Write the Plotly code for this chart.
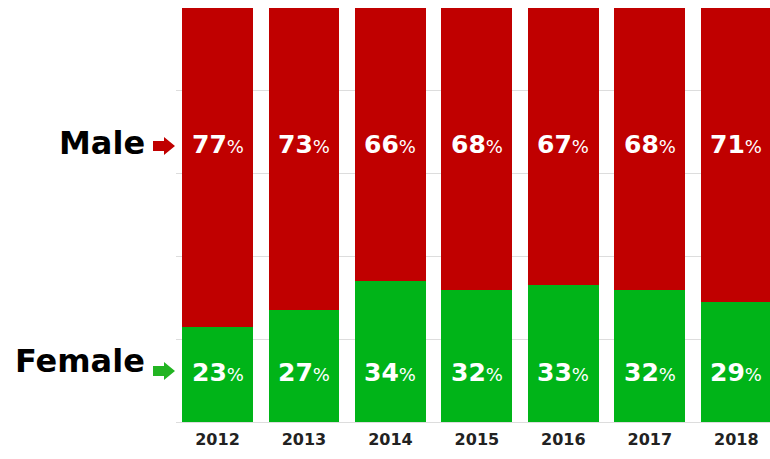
import plotly.graph_objects as go

years = ["2012", "2013", "2014", "2015", "2016", "2017", "2018"]
male = [77, 73, 66, 68, 67, 68, 71]
female = [23, 27, 34, 32, 33, 32, 29]

RED = "#c00000"
GREEN = "#00b418"
FONT = "DejaVu Sans"
W, H, L, T, B = 770, 459, 176, 8, 37

fig = go.Figure()
fig.add_trace(go.Bar(x=years, y=female, marker_color=GREEN, marker_line_width=0, name="Female"))
fig.add_trace(go.Bar(x=years, y=male, marker_color=RED, marker_line_width=0, name="Male"))

def pct(v):
    return f"<b>{v}</b><span style='font-size:18px'>%</span>"

for i, (m, f) in enumerate(zip(male, female)):
    fig.add_annotation(x=i, y=67, text=pct(m), showarrow=False,
                       font=dict(family=FONT, size=25, color="white"))
    fig.add_annotation(x=i, y=12, text=pct(f), showarrow=False,
                       font=dict(family=FONT, size=25, color="white"))

# side labels
def px_x(p):
    return (p - L) / (W - L)

def px_y(p):
    return (H - B - p) / (H - T - B)

fig.add_annotation(xref="paper", yref="paper", x=px_x(147), y=px_y(143),
                   xanchor="right", yanchor="middle",
                   text="<b>Male</b>", showarrow=False,
                   font=dict(family=FONT, size=32, color="black"))
fig.add_annotation(xref="paper", yref="paper", x=px_x(147), y=px_y(361),
                   xanchor="right", yanchor="middle",
                   text="<b>Female</b>", showarrow=False,
                   font=dict(family=FONT, size=32, color="black"))

def arrow(x0, yc, color):
    pts = [(x0, yc - 5), (x0 + 11, yc - 5), (x0 + 11, yc - 9), (x0 + 22, yc),
           (x0 + 11, yc + 9), (x0 + 11, yc + 5), (x0, yc + 5)]
    path = "M " + " L ".join(f"{px_x(a):.4f},{px_y(b):.4f}" for a, b in pts) + " Z"
    fig.add_shape(type="path", xref="paper", yref="paper", path=path,
                  fillcolor=color, line_width=0, layer="above")

arrow(153, 146, RED)
arrow(153, 371, "#22b422")

fig.update_layout(
    barmode="stack",
    bargap=0.18,
    width=W, height=H,
    margin=dict(l=L, r=0, t=T, b=B, autoexpand=False),
    plot_bgcolor="white",
    paper_bgcolor="white",
    showlegend=False,
    xaxis=dict(type="category", range=[-0.48, 6.39], showgrid=False, showline=False,
               ticks="", ticklabelstandoff=6,
               tickfont=dict(family=FONT, size=16, color="#222"),
               tickprefix="<b>", ticksuffix="</b>"),
    yaxis=dict(range=[0, 100], dtick=20, showgrid=True, gridcolor="#dddddd",
               gridwidth=1, showticklabels=False, zeroline=True,
               zerolinecolor="#dddddd", zerolinewidth=1),
)

fig.write_html("out.html", config={"displayModeBar": False},
               post_script="document.body.style.margin='0';")
